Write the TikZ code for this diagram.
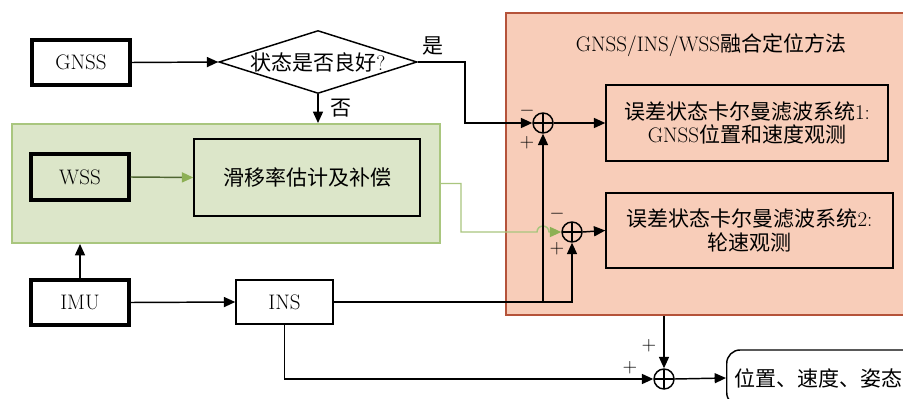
\documentclass[tikz,border=0pt]{standalone}
\usepackage{fontspec}
\newfontfamily\cjk{Noto Sans CJK SC}
\usetikzlibrary{shapes.geometric,arrows.meta}
\definecolor{redfill}{HTML}{F8CDB9}
\definecolor{redline}{HTML}{B5533A}
\definecolor{greenfill}{HTML}{DCE6C9}
\definecolor{greenline}{HTML}{A9C67E}
\definecolor{greenarrow}{HTML}{8DB055}
\definecolor{darkgreen}{HTML}{4F6632}
\begin{document}
\begin{tikzpicture}[x=0.75pt,y=-0.75pt,
  font=\fontsize{15.75pt}{17.5pt}\selectfont,
  box/.style={draw, line width=1.1pt, inner sep=0pt, align=center},
  thickbox/.style={box, line width=2.4pt},
  sumnode/.style={circle, draw, line width=1.1pt, minimum size=15pt, inner sep=0pt,
    path picture={\draw[line width=1.1pt] (path picture bounding box.north) -- (path picture bounding box.south)
      (path picture bounding box.west) -- (path picture bounding box.east);}},
  conn/.style={line width=1.1pt, -{Triangle[length=8.5pt,width=7.5pt]}},
  sign/.style={font=\fontsize{14pt}{14pt}\selectfont, inner sep=0pt}]
\useasboundingbox (0,0) rectangle (903,399);
\fill[white] (0,0) rectangle (903,399);
\clip (0,0) rectangle (903,399);

% containers
\node[draw=redline, fill=redfill, line width=1.5pt, minimum width=303pt, minimum height=226.5pt, inner sep=0pt] (red) at (708,164) {};
\node (title) at (711,45) {GNSS/INS/WSS{\cjk 融合定位方法}};
\node[draw=greenline, fill=greenfill, line width=1.5pt, minimum width=321pt, minimum height=89.25pt, inner sep=0pt] (green) at (226,183.5) {};

% blocks
\node[thickbox, minimum width=73.5pt, minimum height=33.75pt] (gnss) at (81,62.5) {GNSS};
\node[diamond, draw, line width=1.1pt, aspect=3.14, inner sep=0pt, minimum width=148.5pt, minimum height=47.25pt] (dia) at (318,62) {{\cjk 状态是否良好}?};
\node[box, minimum width=211.5pt, minimum height=57pt] (kf1) at (747,123) {{\cjk 误差状态卡尔曼滤波系统}1:\\GNSS{\cjk 位置和速度观测}};
\node[box, minimum width=215.25pt, minimum height=56.25pt] (kf2) at (749.5,230.5) {{\cjk 误差状态卡尔曼滤波系统}2:\\{\cjk 轮速观测}};
\node[thickbox, minimum width=73.5pt, minimum height=34.5pt] (wss) at (80,177) {WSS};
\node[box, minimum width=169.5pt, minimum height=57.75pt] (slip) at (307,177.5) {{\cjk 滑移率估计及补偿}};
\node[thickbox, minimum width=73.5pt, minimum height=33.75pt] (imu) at (80,302.5) {IMU};
\node[box, minimum width=72.75pt, minimum height=33pt] (ins) at (284.5,302) {INS};
\node[sumnode] (s1) at (543,123) {};
\node[sumnode] (s2) at (572,232) {};
\node[sumnode] (s3) at (664,379) {};
\node[draw, line width=1.1pt, rounded corners=10pt, minimum height=42pt, text width=170pt, inner xsep=6pt, align=left, anchor=west] (out) at (726,378) {{\cjk 位置、速度、姿态}};

% labels
\node[inner sep=0pt] (yes) at (433,46) {\cjk 是};
\node[inner sep=0pt] (no) at (341,108) {\cjk 否};
\node[sign] (m1) at (527,111) {$-$};
\node[sign] (p1) at (527,143) {$+$};
\node[sign] (m2) at (557,214) {$-$};
\node[sign] (p2) at (557,249) {$+$};
\node[sign] (p3a) at (649,346) {$+$};
\node[sign] (p3b) at (630,368) {$+$};

% coordinates
\coordinate (yb) at (465,62);
\coordinate (g1) at (461,183.5);
\coordinate (h1) at (537,232);

% connectors
\draw[conn] (gnss.east) -- (dia.west);
\draw[conn] (dia.east) -- (yb) |- (s1.west);
\draw[conn] (dia.south) -- (green.north -| dia.south);
\draw[conn] (s1.east) -- (kf1.west);
\draw[line width=1.1pt, darkgreen, -{Triangle[length=8.5pt,width=7.5pt,color=greenarrow]}] (wss.east) -- (slip.west);
\draw[line width=1.1pt, greenline, -{Triangle[length=8.5pt,width=7.5pt,color=greenarrow]}] (green.east) -- (g1) |- (h1) arc[start angle=180, end angle=0, radius=4.5pt] -- (s2.west);
\draw[conn] (s2.east) -- (kf2.west);
\draw[conn] (imu.north) -- (green.south -| imu.north);
\draw[conn] (imu.east) -- (ins.west);
\draw[conn] (ins.east) -| (s2.south);
\draw[conn] (s1 |- ins.east) -- (s1.south);
\draw[conn] (ins.south) |- (s3.west);
\draw[conn] (red.south -| s3.north) -- (s3.north);
\draw[conn] (s3.east) -- (out.west);
\end{tikzpicture}
\end{document}
